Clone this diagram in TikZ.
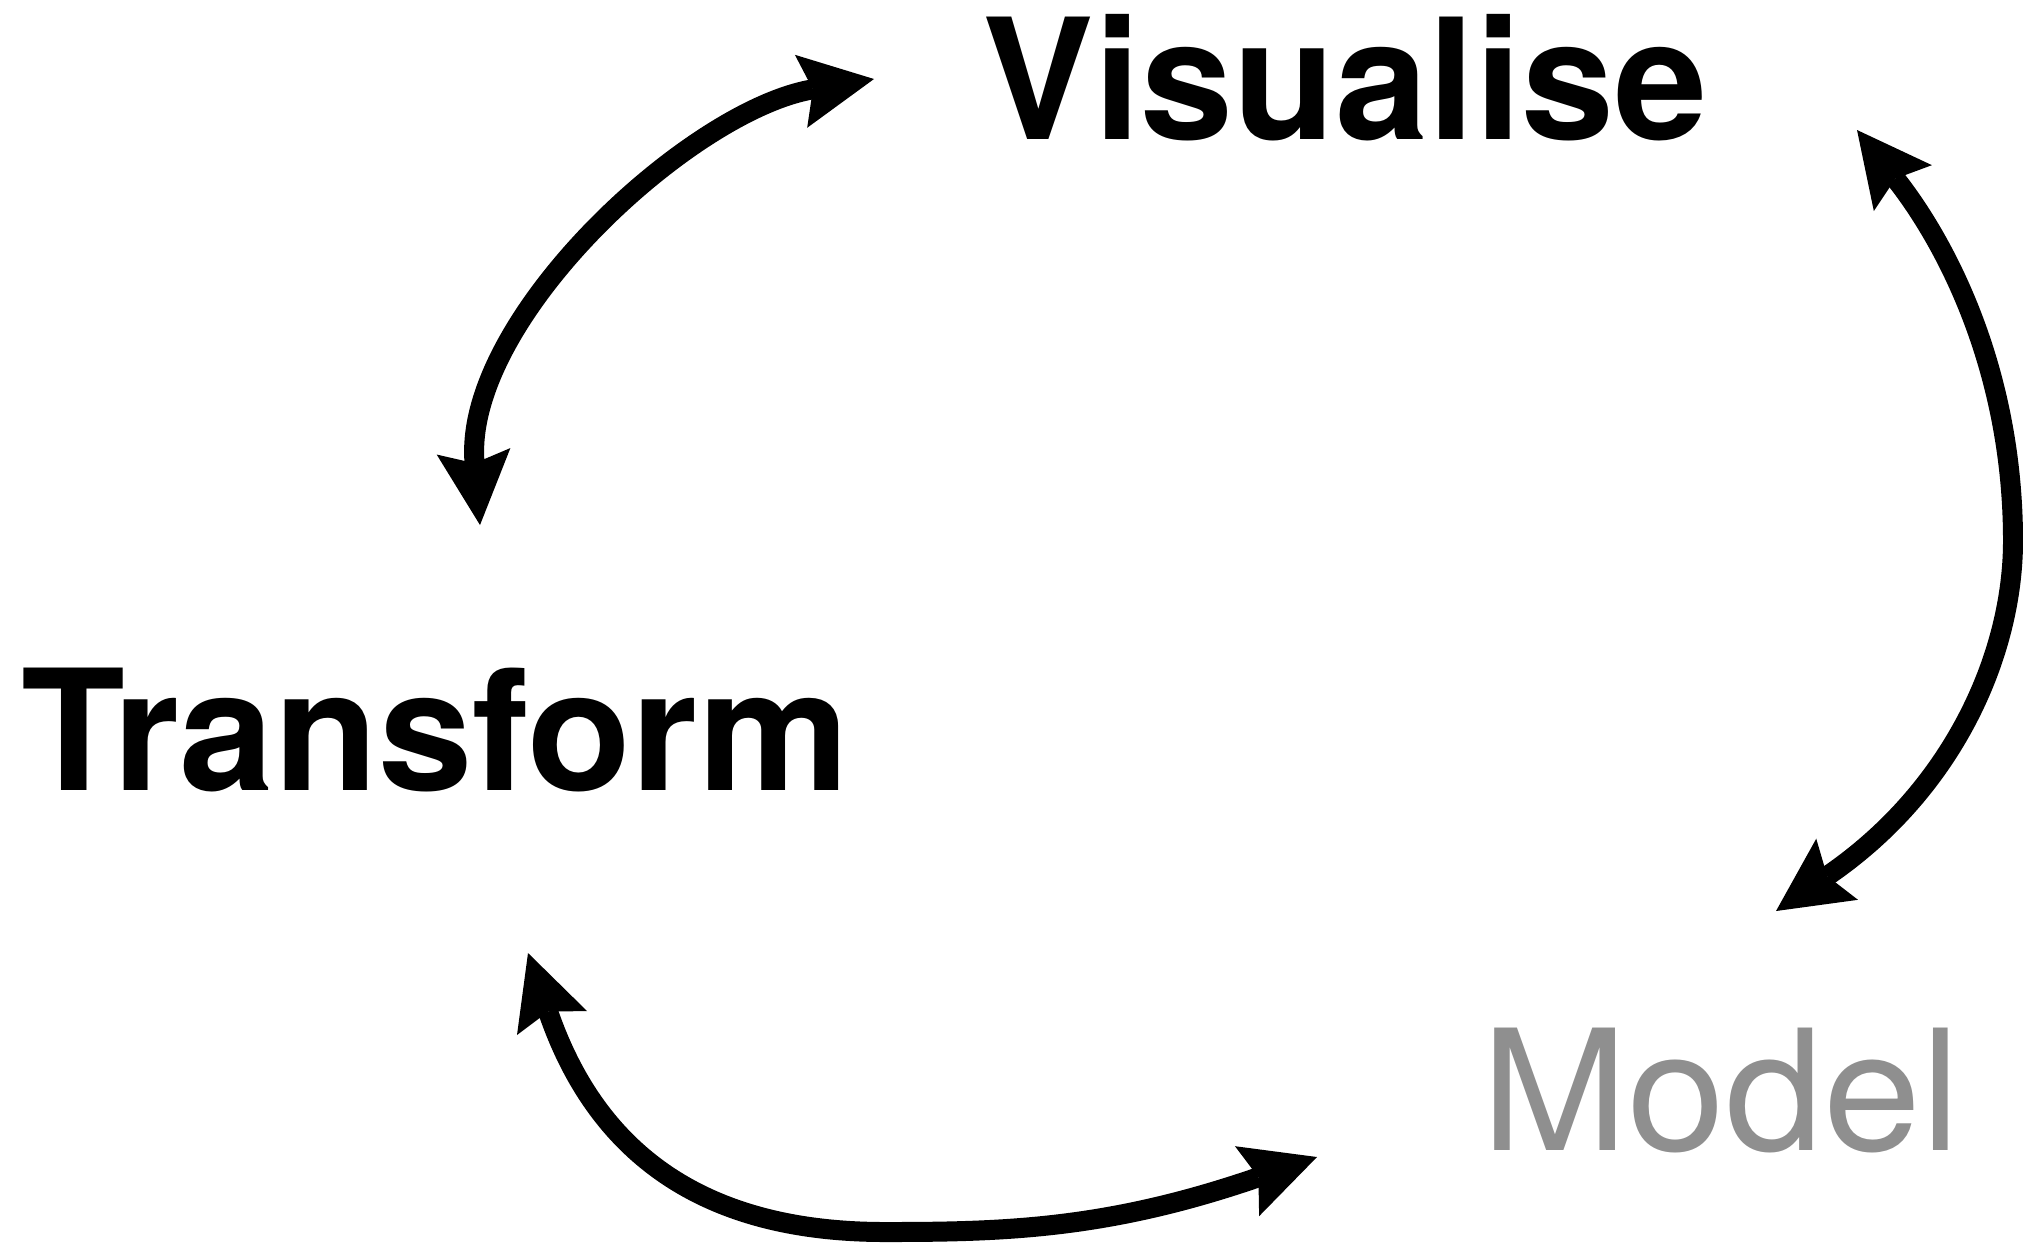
\documentclass[tikz,border=0pt]{standalone}
\usepackage{fontspec}
\setmainfont{TeX Gyre Heros}
\newfontfamily\visfont[FakeStretch=0.995]{TeX Gyre Heros}
\newfontfamily\trafont[FakeStretch=1.012]{TeX Gyre Heros}
\newfontfamily\modfont[FakeStretch=1.048]{TeX Gyre Heros}
\usetikzlibrary{arrows.meta}
\definecolor{modelgray}{HTML}{8F8F8F}
\tikzset{
  wordbox/.style={inner sep=0pt, anchor=base},
  cyclearrow/.style={line width=10pt,
    {Stealth[length=37pt,width=37pt,inset=6pt,line width=0pt]}-{Stealth[length=37pt,width=37pt,inset=6pt,line width=0pt]}}
}
\begin{document}
\begin{tikzpicture}[x=0.5pt,y=-0.5pt]
\useasboundingbox (0,0) rectangle (2023,1244);
\node[wordbox, font=\visfont\fontsize{84}{84}\selectfont\bfseries] (vis) at (1345,139) {Visualise};
\node[wordbox, font=\trafont\fontsize{84}{84}\selectfont\bfseries] (tra) at (435,790) {Transform};
\node[wordbox, font=\modfont\fontsize{84}{84}\selectfont, text=modelgray] (mod) at (1721,1150) {Model};
\coordinate (tA) at (480,525);
\coordinate (vA) at (874,79);
\coordinate (vB) at (1857,130);
\coordinate (rB) at (2013,541);
\coordinate (mB) at (1776,911);
\coordinate (tC) at (528,953);
\coordinate (bC) at (885,1232);
\coordinate (mC) at (1317,1157);
\draw[cyclearrow] (tA) .. controls (462,320) and (690,110) .. (vA);
\draw[cyclearrow] (vB) .. controls (1947,244) and (2013,371) .. (rB) .. controls (2013,651) and (1956,788) .. (mB);
\draw[cyclearrow] (tC) .. controls (605.5,1179) and (735,1232) .. (bC) .. controls (1005,1232) and (1108.5,1229) .. (mC);
\end{tikzpicture}
\end{document}
